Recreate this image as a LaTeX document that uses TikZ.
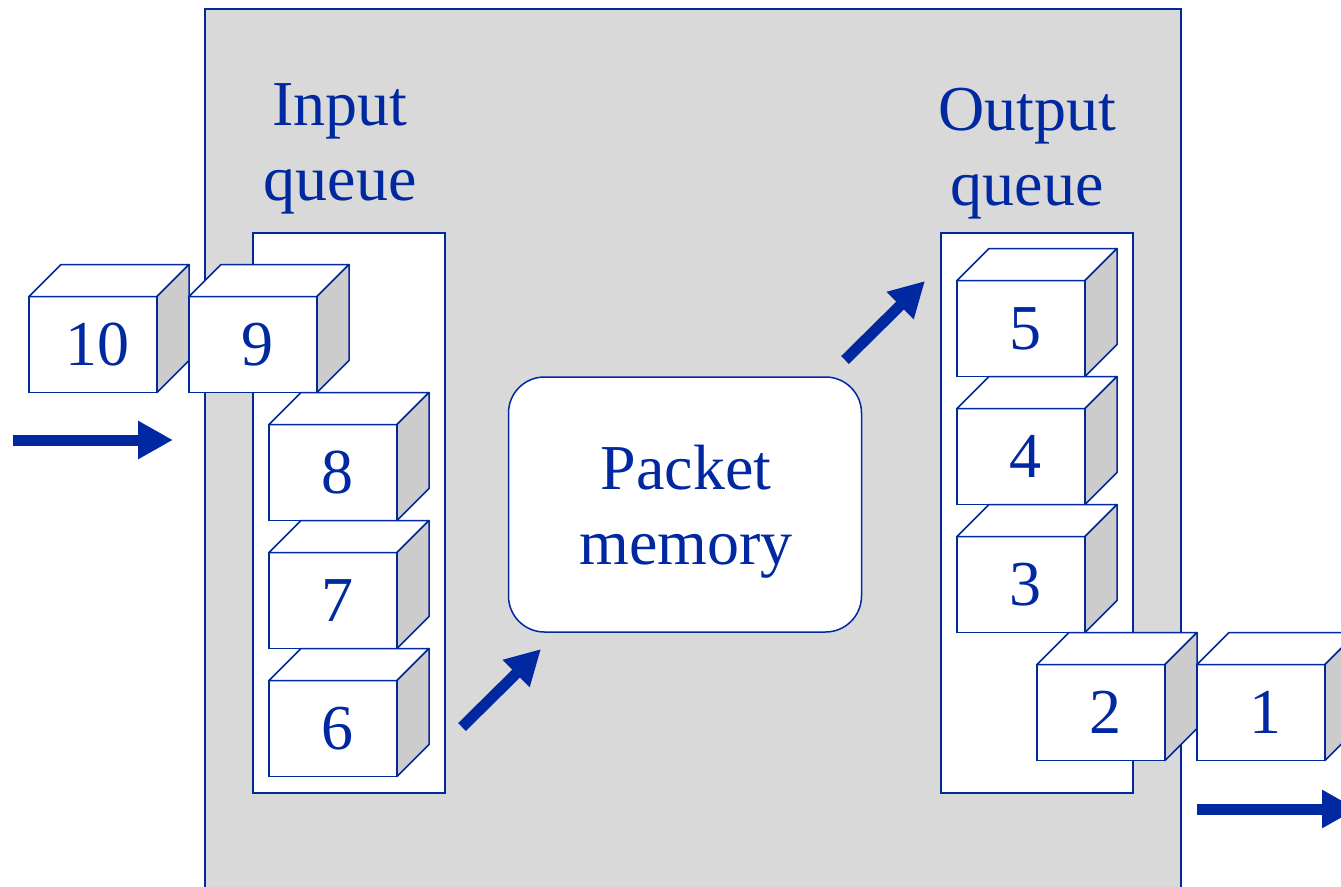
\documentclass[tikz,border=0pt]{standalone}
\usepackage{fontspec}
\setmainfont{Liberation Serif}
\usetikzlibrary{arrows.meta,positioning}
\definecolor{qBlue}{RGB}{0,40,160}
\definecolor{swGrey}{HTML}{D9D9D9}
\definecolor{sideGrey}{HTML}{CCCCCC}
\tikzset{
	big font/.style={font=\fontsize{64}{75}\selectfont, text=qBlue},
	cube front/.style={draw=qBlue, fill=white, line width=1.5pt, outer sep=0,
		minimum width=128pt, minimum height=96pt, inner sep=0, big font},
	pics/cube/.style={code={
			\node[cube front] (-f) {\kern8pt#1};
			\filldraw[draw=qBlue, fill=white, line width=1.5pt, line join=round] (-f.north west) -- ++(32,-32) -- ++(128,0) -- (-f.north east) -- cycle;
			\filldraw[draw=qBlue, fill=sideGrey, line width=1.5pt, line join=round] (-f.north east) -- ++(32,-32) -- ++(0,96) -- (-f.south east) -- cycle;
	}},
	queue box/.style={draw=qBlue, fill=white, line width=1.5pt, outer sep=0,
		minimum width=192pt, minimum height=560pt},
	flow/.style={draw=qBlue, line width=11pt, -{Triangle[length=35pt,width=36pt]}}
}

\begin{document}
\begin{tikzpicture}[x=1pt, y=-1pt]
	\useasboundingbox (0,0) rectangle (1341,886);
	\node[draw=qBlue, fill=swGrey, line width=1.5pt, minimum width=976pt, minimum height=884pt] (sw) at (693,451) {};
	
	\node[queue box] (inq) at (349,513) {};
	\node[queue box] (outq) at (1037,513) {};
	\node[draw=qBlue, fill=white, line width=1.5pt, rounded corners=36pt, minimum width=353pt, minimum height=255pt] (mem) at (685,504.5) {};
	
	\node[big font, align=center] (inlab) at (340,149) {Input\\queue};
	\node[big font, align=center] (outlab) at (1027,154) {Output\\queue};
	\node[big font, align=center] (memlab) at (686,512) {Packet\\memory};
	
	% arrows
	\coordinate (in0) at (13,440);   \coordinate (in1) at (173,440);
	\coordinate (tm0) at (462,727);  \coordinate (tm1) at (541,649);
	\coordinate (fm0) at (845,360);  \coordinate (fm1) at (925,281);
	\coordinate (out0) at (1197,809); \coordinate (out1) at (1357,809);
	\draw[flow] (in0) -- (in1);
	\draw[flow] (tm0) -- (tm1);
	\draw[flow] (fm0) -- (fm1);
	\draw[flow] (out0) -- (out1);
	
	% packets
	\pic (c10) at (93,344.5) {cube=10};
	\pic (c9) at (253,344.5) {cube=9};
	\pic (c8) at (333,472.5) {cube=8};
	\pic (c7) at (333,600.5) {cube=7};
	\pic (c6) at (333,728.5) {cube=6};
	\pic (c5) at (1021,328.5) {cube=5};
	\pic (c4) at (1021,456.5) {cube=4};
	\pic (c3) at (1021,584.5) {cube=3};
	\pic (c2) at (1101,712.5) {cube=2};
	\pic (c1) at (1261,712.5) {cube=1};
\end{tikzpicture}
\end{document}
